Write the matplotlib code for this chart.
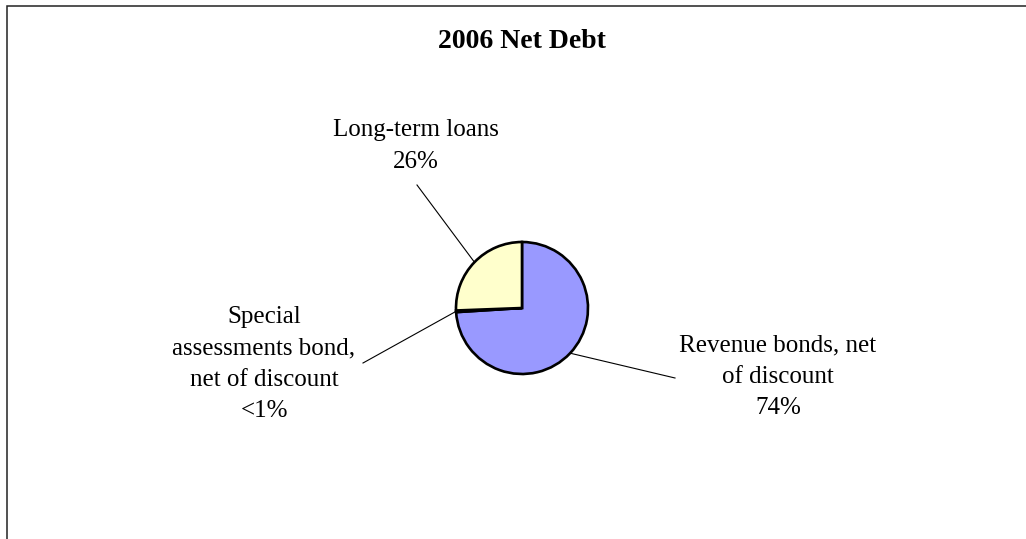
import numpy as np
import matplotlib
matplotlib.use('Agg')
import matplotlib.pyplot as plt
from matplotlib.patches import Rectangle

# data
categories = ['Revenue bonds, net\nof discount',
              'Special\nassessments bond,\nnet of discount',
              'Long-term loans']
shares = [74.0, 0.4, 25.6]
colors = ['#9999FF', '#FFFFCC', '#FFFFCC']
title = '2006 Net Debt'

W, H = 1026, 539
plt.rcParams['font.family'] = ['Liberation Serif', 'DejaVu Serif']

fig = plt.figure(figsize=(W / 100, H / 100), dpi=100)
ax = fig.add_axes([0, 0, 1, 1])

# pie placement (pixels, y up)
cx, cy, r = 522, H - 308, 66

wedges, _ = ax.pie(shares, colors=colors, startangle=90, counterclock=False,
                   center=(cx, cy), radius=r, frame=True,
                   wedgeprops=dict(edgecolor='black', linewidth=1.9))
ax.set_xlim(0, W)
ax.set_ylim(0, H)
ax.set_aspect('equal', adjustable='box')
ax.axis('off')


def pct_label(v):
    return '<1%' if v < 1 else f'{round(v):.0f}%'


# label centres and leader end points (pixels from top-left)
label_pos = [(778, 377), (264, 364), (416, 146)]
leader_end = [(675, 378), (363, 363), (417, 185)]

for w, name, v, (tx, ty), (lx, ly) in zip(wedges, categories, shares,
                                          label_pos, leader_end):
    ax.text(tx, H - ty, name + '\n' + pct_label(v), ha='center', va='center',
            fontsize=18, linespacing=1.54)
    mid = np.deg2rad((w.theta1 + w.theta2) / 2)
    ex, ey = cx + r * np.cos(mid), cy + r * np.sin(mid)
    ax.plot([ex, lx], [ey, H - ly], color='black', linewidth=0.8)

ax.text(522, H - 42, title, ha='center', va='center', fontsize=20,
        fontweight='bold')

# chart border (right and bottom run off the picture)
fig.patches.append(Rectangle((6.5 / W, -0.1), 1.2, (H - 6) / H + 0.1,
                             transform=fig.transFigure, fill=False,
                             edgecolor='#222222', linewidth=1.1))

fig.savefig('out.png', dpi=100)
